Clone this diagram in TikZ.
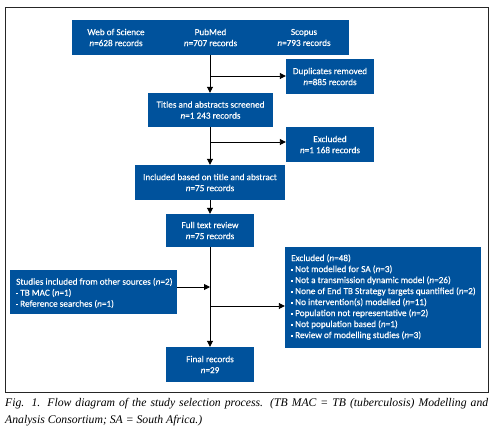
\documentclass[tikz,border=0pt]{standalone}
\usepackage{fontspec}
\setmainfont{Carlito}
\newfontfamily\boxfont{Carlito}[FakeBold=0.35]
\newfontfamily\capfont{Liberation Serif}
\usetikzlibrary{arrows.meta}
\definecolor{boxblue}{HTML}{00529C}
\newcommand\sqb{\raisebox{0.3ex}{\rule{1.8pt}{1.8pt}}\hspace{2.2pt}}
\begin{document}
\begin{tikzpicture}[x=1pt,y=-1pt,
  boxtxt/.style={text=white, inner sep=0pt, font=\boxfont\fontsize{9.2}{11}\selectfont},
  box/.style={boxtxt, fill=boxblue, align=center},
  conn/.style={line width=0.9pt, -{Triangle[length=6pt,width=6pt]}},
  plain/.style={line width=0.9pt}]
\useasboundingbox (0,0) rectangle (493,435);
\draw[line width=0.9pt, black!85] (5,7) rectangle (488,392);
% boxes
\node[box, minimum width=277pt, minimum height=35pt] (top) at (210.5,37.5) {};
\node[boxtxt, align=center] (wos) at (116,37.5) {Web of Science\\\textit{n}=628 records};
\node[boxtxt, align=center] (pm) at (210.5,37.5) {PubMed\\\textit{n}=707 records};
\node[boxtxt, align=center] (sc) at (304,37.5) {Scopus\\\textit{n}=793 records};
\node[box, minimum width=88pt, minimum height=35pt] (dup) at (330,76.5) {Duplicates removed\\\textit{n}=885 records};
\node[box, minimum width=125pt, minimum height=34pt] (titles) at (210.5,110) {Titles and abstracts screened\\\textit{n}=1 243 records};
\node[box, minimum width=88pt, minimum height=35pt] (exa) at (330,144.5) {Excluded\\\textit{n}=1 168 records};
\node[box, minimum width=150pt, minimum height=35pt] (incl) at (210,182.5) {Included based on title and abstract\\\textit{n}=75 records};
\node[box, minimum width=88pt, minimum height=33pt] (full) at (210,230.5) {Full text review\\\textit{n}=75 records};
\node[box, minimum width=196pt, minimum height=101pt] (exb) at (383,297.5) {};
\node[boxtxt, align=left, anchor=west] (exbt) at (291,297) {Excluded (\textit{n}=48)\\
\sqb Not modelled for SA (\textit{n}=3)\\
\sqb Not a transmission dynamic model (\textit{n}=26)\\
\sqb None of End TB Strategy targets quantified (\textit{n}=2)\\
\sqb No intervention(s) modelled (\textit{n}=11)\\
\sqb Population not representative (\textit{n}=2)\\
\sqb Not population based (\textit{n}=1)\\
\sqb Review of modelling studies (\textit{n}=3)};
\node[box, minimum width=167pt, minimum height=44pt] (oth) at (93.5,292) {};
\node[boxtxt, align=left, anchor=west] (otht) at (16,293) {Studies included from other sources (\textit{n}=2)\\
\sqb TB MAC (\textit{n}=1)\\
\sqb Reference searches (\textit{n}=1)};
\node[box, minimum width=88pt, minimum height=35pt] (final) at (210,364.5) {Final records\\\textit{n}=29};
% connectors
\coordinate (b1) at (210,76);
\coordinate (b2) at (210,142);
\coordinate (b3) at (210,287);
\coordinate (b4) at (210,306);
\draw[conn] (top.south -| b1) -- (titles.north -| b1);
\draw[conn] (b1) -- (b1 -| dup.west);
\draw[conn] (titles.south -| b2) -- (incl.north -| b2);
\draw[conn] (b2) -- (b2 -| exa.west);
\draw[conn] (incl.south -| b1) -- (full.north -| b1);
\draw[conn] (full.south -| b3) -- (final.north -| b3);
\draw[conn] (b3 -| oth.east) -- (b3);
\draw[conn] (b4) -- (b4 -| exb.west);
% caption
\node[anchor=north west, text width=483pt, align=justify, inner sep=0pt,
  font=\capfont\itshape\fontsize{11.7}{16.5}\selectfont] (cap) at (5,398.5)
  {\hyphenpenalty=10000 Fig. 1. Flow diagram of the study selection process. (TB MAC = TB (tuberculosis) Modelling and\linebreak Analysis Consortium; SA = South Africa.)};
\end{tikzpicture}
\end{document}
